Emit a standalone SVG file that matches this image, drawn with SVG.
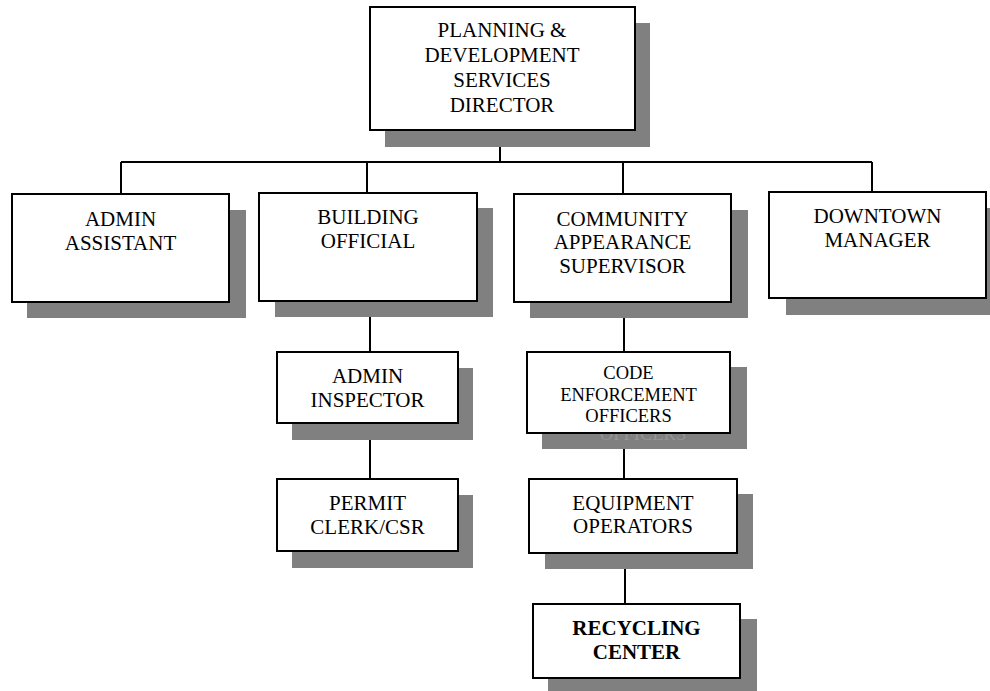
<svg xmlns="http://www.w3.org/2000/svg" width="990" height="691" viewBox="0 0 990 691">
<style>
.sh{fill:#808080;stroke:none}
.bx{fill:#fff;stroke:#000;stroke-width:2}
.t{font-family:"Liberation Serif","Times New Roman",serif;font-size:21px;fill:#000;text-anchor:middle}
.s{font-size:18.5px}
.b{font-weight:bold}
.ghost{fill:#959595}
.c{fill:none;stroke:#000;stroke-width:2}
</style>
<rect width="990" height="691" fill="#fff"/>
<g id="connectors">
<path class="c" d="M500 130V162M121 162H872M121 162V194M367 162V193M623 162V194M872 162V192"/>
<path class="c" d="M370 301V352M370 423V479"/>
<path class="c" d="M624 302V352M624 433V479M625 553V604"/>
</g>
<g id="director">
<rect class="sh" x="385" y="23" width="265" height="124"/>
<rect class="bx" x="370" y="7" width="265" height="123"/>
<text class="t" x="502" y="37">PLANNING &amp;</text>
<text class="t" x="502" y="62">DEVELOPMENT</text>
<text class="t" x="502" y="87">SERVICES</text>
<text class="t" x="502" y="112">DIRECTOR</text>
</g>
<g id="admin-assistant">
<rect class="sh" x="27" y="210" width="219" height="108"/>
<rect class="bx" x="12" y="194" width="217" height="108"/>
<text class="t" x="120.5" y="226">ADMIN</text>
<text class="t" x="120.5" y="250">ASSISTANT</text>
</g>
<g id="building-official">
<rect class="sh" x="275" y="208" width="218" height="109"/>
<rect class="bx" x="259" y="193" width="218" height="108"/>
<text class="t" x="368" y="224">BUILDING</text>
<text class="t" x="368" y="248">OFFICIAL</text>
</g>
<g id="community-appearance">
<rect class="sh" x="530" y="210" width="218" height="108"/>
<rect class="bx" x="514" y="194" width="217" height="108"/>
<text class="t" x="622.5" y="226">COMMUNITY</text>
<text class="t" x="622.5" y="249">APPEARANCE</text>
<text class="t" x="622.5" y="273">SUPERVISOR</text>
</g>
<g id="downtown-manager">
<rect class="sh" x="786" y="208" width="216" height="107"/>
<rect class="bx" x="769" y="192" width="217" height="106"/>
<text class="t" x="877.5" y="223">DOWNTOWN</text>
<text class="t" x="877.5" y="247">MANAGER</text>
</g>
<g id="admin-inspector">
<rect class="sh" x="292" y="368" width="181" height="72"/>
<rect class="bx" x="277" y="352" width="181" height="71"/>
<text class="t" x="367.5" y="383">ADMIN</text>
<text class="t" x="367.5" y="407">INSPECTOR</text>
</g>
<g id="permit-clerk">
<rect class="sh" x="292" y="495" width="181" height="73"/>
<rect class="bx" x="277" y="479" width="181" height="72"/>
<text class="t" x="367.5" y="510">PERMIT</text>
<text class="t" x="367.5" y="534">CLERK/CSR</text>
</g>
<g id="code-enforcement">
<rect class="sh" x="542" y="367" width="205" height="82"/>
<text class="t s ghost" x="643" y="440">OFFICERS</text>
<rect class="bx" x="527" y="352" width="203" height="81"/>
<text class="t s" x="628.5" y="379">CODE</text>
<text class="t s" x="628.5" y="401">ENFORCEMENT</text>
<text class="t s" x="628.5" y="422">OFFICERS</text>
</g>
<g id="equipment-operators">
<rect class="sh" x="545" y="494" width="208" height="75"/>
<rect class="bx" x="529" y="479" width="208" height="74"/>
<text class="t" x="633" y="510">EQUIPMENT</text>
<text class="t" x="633" y="533">OPERATORS</text>
</g>
<g id="recycling-center">
<rect class="sh" x="548" y="619" width="209" height="72"/>
<rect class="bx" x="533" y="604" width="207" height="74"/>
<text class="t b" x="636.5" y="635">RECYCLING</text>
<text class="t b" x="636.5" y="659">CENTER</text>
</g>
</svg>
